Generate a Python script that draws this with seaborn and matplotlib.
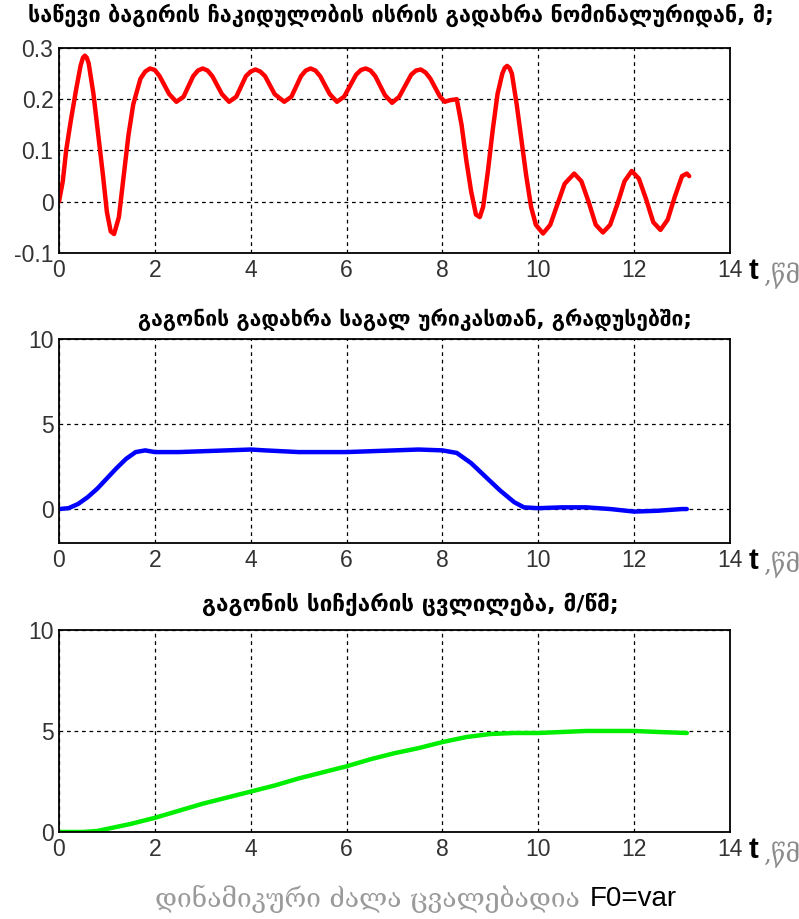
import numpy as np
import pandas as pd
import matplotlib
matplotlib.use("Agg")
import matplotlib.pyplot as plt
import seaborn as sns

# --- time axis ticks and labels ---
x_ticks = [0, 2, 4, 6, 8, 10, 12, 14]

titles = [
    "საწევი ბაგირის ჩაკიდულობის ისრის გადახრა ნომინალურიდან, მ;",
    "გაგონის გადახრა საგალ ურიკასთან, გრადუსებში;",
    "გაგონის სიჩქარის ცვლილება, მ/წმ;",
]
footer_geo = "დინამიკური ძალა ცვალებადია"
footer_lat = "F0=var"
xlabel_t = "t"
xlabel_unit = ",წმ"

# --- rope sag deviation, m ---
sag_t = [0.0, 0.08, 0.15, 0.25, 0.36, 0.45, 0.5, 0.54, 0.58, 0.62, 0.72, 0.82,
         0.92, 1.0, 1.08, 1.15, 1.25, 1.35, 1.45, 1.55, 1.7, 1.8, 1.9, 2.0, 2.1,
         2.3, 2.45, 2.6, 2.8, 2.9, 3.0, 3.1, 3.2, 3.4, 3.55, 3.7, 3.9, 4.0, 4.1,
         4.2, 4.3, 4.5, 4.7, 4.85, 5.05, 5.15, 5.25, 5.35, 5.45, 5.65, 5.8,
         5.95, 6.2, 6.3, 6.4, 6.5, 6.6, 6.8, 6.95, 7.1, 7.35, 7.45, 7.55, 7.65,
         7.75, 7.95, 8.05, 8.15, 8.3, 8.4, 8.5, 8.6, 8.7, 8.78, 8.85, 8.95, 9.05,
         9.15, 9.25, 9.3, 9.35, 9.4, 9.45, 9.55, 9.65, 9.75, 9.85, 9.95, 10.1,
         10.25, 10.4, 10.55, 10.75, 10.9, 11.05, 11.2, 11.35, 11.5, 11.65, 11.8,
         11.95, 12.1, 12.25, 12.4, 12.55, 12.7, 12.85, 13.0, 13.1, 13.15]
sag_v = [0.0, 0.04, 0.1, 0.16, 0.22, 0.265, 0.281, 0.285, 0.281, 0.27, 0.21,
         0.13, 0.05, -0.02, -0.058, -0.063, -0.03, 0.05, 0.13, 0.19, 0.24, 0.254,
         0.26, 0.257, 0.245, 0.21, 0.195, 0.205, 0.245, 0.256, 0.26, 0.256,
         0.245, 0.21, 0.195, 0.205, 0.245, 0.254, 0.258, 0.254, 0.245, 0.21,
         0.195, 0.205, 0.245, 0.256, 0.26, 0.256, 0.245, 0.21, 0.195, 0.205,
         0.248, 0.257, 0.26, 0.256, 0.245, 0.208, 0.193, 0.205, 0.248, 0.256,
         0.258, 0.252, 0.24, 0.205, 0.195, 0.198, 0.2, 0.15, 0.08, 0.02, -0.025,
         -0.03, -0.01, 0.06, 0.14, 0.21, 0.25, 0.261, 0.265, 0.261, 0.25, 0.19,
         0.12, 0.05, -0.01, -0.045, -0.062, -0.045, -0.005, 0.035, 0.055, 0.04,
         0.0, -0.045, -0.06, -0.045, -0.005, 0.04, 0.06, 0.045, 0.005, -0.04,
         -0.055, -0.035, 0.01, 0.05, 0.055, 0.05]

# --- wagon tilt relative to running bogie, degrees ---
tilt_t = [0.0, 0.2, 0.4, 0.6, 0.8, 1.0, 1.2, 1.4, 1.6, 1.8, 2.0, 2.5, 3.0, 3.5,
          4.0, 4.3, 5.0, 5.5, 6.0, 6.5, 7.0, 7.5, 8.0, 8.3, 8.6, 8.9, 9.2, 9.5,
          9.7, 10.0, 10.5, 11.0, 11.5, 12.0, 12.5, 13.0, 13.1]
tilt_v = [0.0, 0.05, 0.3, 0.7, 1.2, 1.8, 2.4, 2.95, 3.35, 3.45, 3.35, 3.35, 3.4,
          3.45, 3.5, 3.45, 3.35, 3.35, 3.35, 3.4, 3.45, 3.5, 3.45, 3.3, 2.7, 1.9,
          1.1, 0.4, 0.1, 0.05, 0.1, 0.1, 0.0, -0.15, -0.1, 0.0, 0.0]

# --- wagon speed change, m/s ---
speed_t = [0.0, 0.5, 0.8, 1.0, 1.5, 2.0, 2.5, 3.0, 3.5, 4.0, 4.5, 5.0, 5.5, 6.0,
           6.5, 7.0, 7.5, 8.0, 8.5, 9.0, 9.5, 10.0, 10.5, 11.0, 12.0, 12.5, 13.1]
speed_v = [0.0, 0.0, 0.05, 0.15, 0.4, 0.7, 1.05, 1.4, 1.7, 2.0, 2.3, 2.65, 2.95,
           3.25, 3.6, 3.9, 4.15, 4.45, 4.7, 4.85, 4.9, 4.9, 4.95, 5.0, 5.0, 4.95,
           4.9]

series = [
    (sag_t, sag_v, "#ff0000", (-0.1, 0.3), [-0.1, 0, 0.1, 0.2, 0.3],
     ["-0.1", "0", "0.1", "0.2", "0.3"]),
    (tilt_t, tilt_v, "#0000ff", (-2, 10), [0, 5, 10], ["0", "5", "10"]),
    (speed_t, speed_v, "#00ee00", (0, 10), [0, 5, 10], ["0", "5", "10"]),
]

sns.set_style("white")
plt.rcParams["font.family"] = ["Liberation Sans", "DejaVu Sans"]

fig = plt.figure(figsize=(7.99, 9.19), dpi=100)
fig.patch.set_facecolor("white")

# axes boxes in figure fractions: left, bottom, width, height
boxes = [
    (0.0738, 0.7247, 0.8398, 0.2231),
    (0.0738, 0.4091, 0.8398, 0.2220),
    (0.0738, 0.0947, 0.8398, 0.2198),
]
title_pos = [(0.502, 0.983), (0.519, 0.652), (0.513, 0.342)]
title_size = [15.6, 15.2, 16.2]
xlab_y = [0.705, 0.390, 0.075]

for (t, v, color, ylim, yt, ytl), box, (tx, ty), tsz, xy, title in zip(
        series, boxes, title_pos, title_size, xlab_y, titles):
    ax = fig.add_axes(box)
    df = pd.DataFrame({"t": t, "v": v})
    sns.lineplot(data=df, x="t", y="v", color=color, linewidth=3.2,
                 ax=ax, sort=False)
    ax.set_xlim(0, 14)
    ax.set_ylim(*ylim)
    ax.set_xticks(x_ticks)
    ax.set_xticklabels([str(x) for x in x_ticks])
    ax.set_yticks(yt)
    ax.set_yticklabels(ytl)
    ax.set_xlabel("")
    ax.set_ylabel("")
    ax.grid(True, color="black", linestyle=(0, (3, 3)), linewidth=0.9)
    ax.tick_params(direction="in", length=4, width=1, colors="black",
                   labelsize=16.5, labelcolor="#333333", pad=4)
    for sp in ax.spines.values():
        sp.set_visible(True)
        sp.set_color("black")
        sp.set_linewidth(1.3)
    fig.text(tx, ty, title, ha="center", va="center", fontsize=tsz,
             fontweight="bold", family=["DejaVu Sans"], color="black")
    fig.text(0.937, xy, xlabel_t, ha="left", va="center", fontsize=21,
             fontweight="bold", family=["Liberation Sans", "DejaVu Sans"],
             color="black")
    fig.text(0.955, xy - 0.005, xlabel_unit, ha="left", va="center",
             fontsize=18, family=["DejaVu Serif", "DejaVu Sans"],
             color="#8a8a8a")

fig.text(0.726, 0.022, footer_geo, ha="right", va="center", fontsize=19,
         family=["DejaVu Serif", "DejaVu Sans"], color="#9a9a9a")
fig.text(0.738, 0.022, footer_lat, ha="left", va="center", fontsize=20,
         family=["Liberation Sans", "DejaVu Sans"], color="black")

fig.savefig("out.png", dpi=100, facecolor="white")
